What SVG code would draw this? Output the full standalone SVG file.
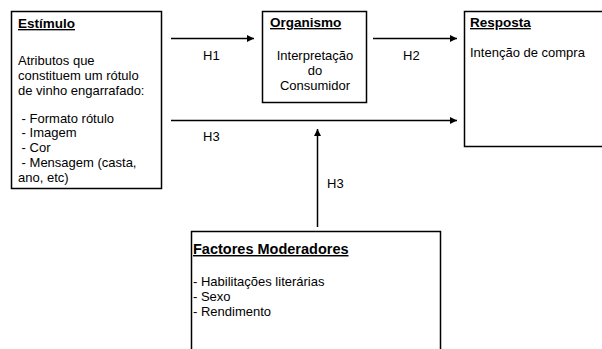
<svg xmlns="http://www.w3.org/2000/svg" width="602" height="349" viewBox="0 0 602 349">
<style>
.box{fill:#fff;stroke:#000;stroke-width:1.5}
text{font-family:"Liberation Sans",Arial,sans-serif;font-size:13px;fill:#000}
.h{font-weight:bold;text-decoration:underline;font-size:13.5px}
.ln{stroke:#000;stroke-width:1.5;fill:none}
</style>
<defs>
<marker id="ah" markerWidth="8" markerHeight="8" refX="7" refY="4" orient="auto" markerUnits="userSpaceOnUse">
<path d="M0,0.5 L7,4 L0,7.5 Z" fill="#000"/>
</marker>
</defs>
<g id="estimulo">
<rect class="box" x="11.5" y="11.5" width="150" height="177"/>
<text class="h" x="18" y="28">Estímulo</text>
<text x="18" y="65">Atributos que</text>
<text x="18" y="80">constituem um rótulo</text>
<text x="18" y="95">de vinho engarrafado:</text>
<text x="18" y="122.5" xml:space="preserve"> - Formato rótulo</text>
<text x="18" y="137" xml:space="preserve"> - Imagem</text>
<text x="18" y="151.5" xml:space="preserve"> - Cor</text>
<text x="18" y="166.5" xml:space="preserve"> - Mensagem (casta,</text>
<text x="18" y="181.5">ano, etc)</text>
</g>
<g id="organismo">
<rect class="box" x="262.5" y="11.5" width="104" height="91"/>
<text class="h" x="270" y="27">Organismo</text>
<text x="315" y="60" text-anchor="middle">Interpretação</text>
<text x="315" y="75" text-anchor="middle">do</text>
<text x="315" y="90" text-anchor="middle">Consumidor</text>
</g>
<g id="resposta">
<rect class="box" x="464.5" y="11.5" width="145" height="135"/>
<text class="h" x="470" y="27">Resposta</text>
<text x="470" y="57">Intenção de compra</text>
</g>
<g id="factores">
<rect class="box" x="191.5" y="231.5" width="249" height="130"/>
<text class="h" x="193" y="254" style="font-size:14.5px">Factores Moderadores</text>
<text x="193" y="285.5">- Habilitações literárias</text>
<text x="193" y="300.5">- Sexo</text>
<text x="193" y="315.5">- Rendimento</text>
</g>
<g id="connectors">
<line class="ln" x1="171" y1="38.5" x2="254" y2="38.5" marker-end="url(#ah)"/>
<line class="ln" x1="373" y1="38.5" x2="457" y2="38.5" marker-end="url(#ah)"/>
<line class="ln" x1="171" y1="120.5" x2="457" y2="120.5" marker-end="url(#ah)"/>
<line class="ln" x1="317.5" y1="227" x2="317.5" y2="129" marker-end="url(#ah)"/>
<text x="203" y="60">H1</text>
<text x="403" y="60">H2</text>
<text x="203" y="141">H3</text>
<text x="327" y="188">H3</text>
</g>
</svg>
